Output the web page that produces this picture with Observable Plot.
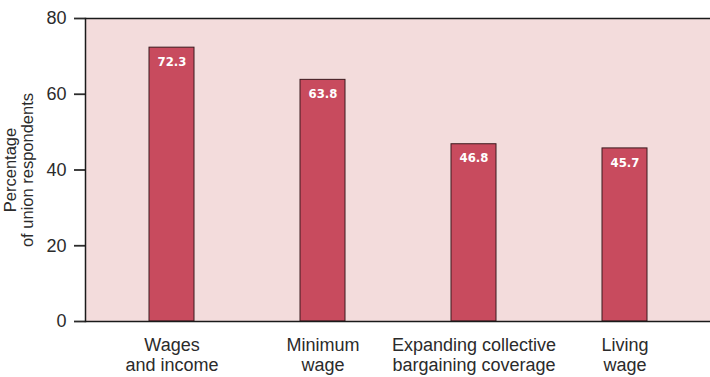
<!DOCTYPE html>
<html>
<head>
<meta charset="utf-8">
<script src="https://cdn.jsdelivr.net/npm/d3@7"></script>
<script src="https://cdn.jsdelivr.net/npm/@observablehq/plot@0.6"></script>
<style>
  html, body { margin: 0; padding: 0; background: #ffffff; }
  #chart svg { display: block; }
</style>
</head>
<body>
<div id="chart"></div>
<script>
// Share of union respondents citing each bargaining priority
const categories = [
  "Wages\nand income",
  "Minimum\nwage",
  "Expanding collective\nbargaining coverage",
  "Living\nwage"
];
const values = [72.3, 63.8, 46.8, 45.7];
const yTicks = [0, 20, 40, 60, 80];
const yLabel = "Percentage\nof union respondents";

const data = categories.map((c, i) => ({ category: c, value: values[i] }));

const chart = Plot.plot({
  width: 710,
  height: 377,
  marginLeft: 85,
  marginRight: 0,
  marginTop: 18,
  marginBottom: 56,
  style: { fontFamily: "Arial, 'Liberation Sans', sans-serif", color: "#2b2b2b", background: "#ffffff" },
  x: { domain: categories, paddingInner: 0.703, paddingOuter: 0.42 },
  y: { domain: [0, 80], ticks: yTicks },
  marks: [
    Plot.frame({ fill: "#f3dcdc", stroke: null }),
    Plot.barY(data, {
      x: "category",
      y: "value",
      fill: "#c84b5e",
      stroke: "#3a1a1e",
      strokeWidth: 1
    }),
    Plot.text(data, {
      x: "category",
      y: "value",
      text: d => d.value.toFixed(1),
      dy: 14,
      fill: "#ffffff",
      fontWeight: "bold",
      fontSize: 13,
      fontFamily: "'Liberation Sans Narrow', 'DejaVu Sans Condensed', sans-serif",
      letterSpacing: "0.5px"
    }),
    Plot.axisX({
      tickSize: 0,
      tickPadding: 15,
      fontSize: 18,
      label: null,
      lineHeight: 1.11
    }),
    Plot.axisY({
      ticks: yTicks,
      tickSize: 11,
      tickPadding: 8,
      fontSize: 18,
      stroke: "#2b2b2b",
      strokeWidth: 1.8,
      label: null
    }),
    // axis title on its own, smaller than the tick labels
    Plot.axisY({
      ticks: [],
      tickSize: 0,
      fontSize: 16.5,
      label: yLabel,
      labelAnchor: "center",
      labelArrow: "none",
      labelOffset: 81,
      lineHeight: 1.15
    }),
    Plot.ruleY([0, 80], { stroke: "#1a1a1a", strokeWidth: 1.5 }),
    Plot.frame({ anchor: "left", stroke: "#1a1a1a", strokeWidth: 1.5 })
  ]
});

document.getElementById("chart").appendChild(chart);
</script>
</body>
</html>
